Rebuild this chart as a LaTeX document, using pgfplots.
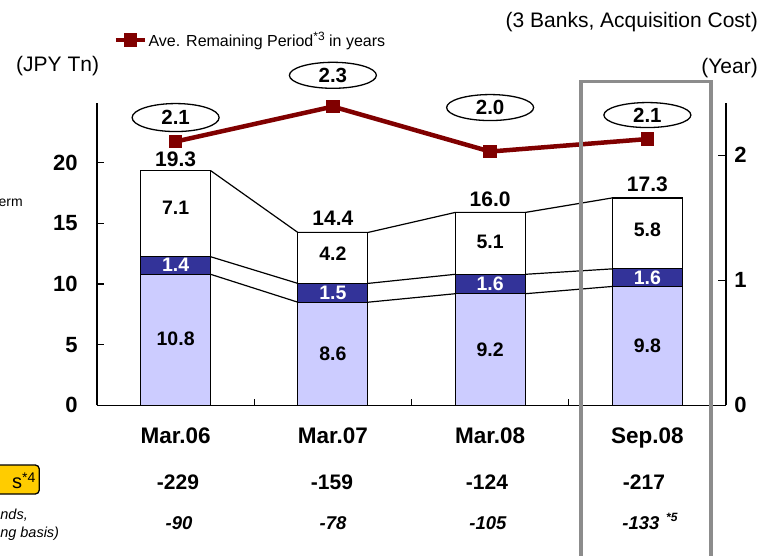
\documentclass[border=0pt]{standalone}
\usepackage{fontspec}
\setmainfont{Liberation Sans}
\usepackage{pgfplots}
\pgfplotsset{compat=1.18}
\usetikzlibrary{shapes.geometric}
\definecolor{lav}{HTML}{CCCCFF}
\definecolor{navy}{HTML}{333399}
\definecolor{dred}{HTML}{800000}
\definecolor{ybox}{HTML}{FFCC00}
\definecolor{gframe}{HTML}{8C8C8C}
\newcommand\fs[1]{\fontsize{#1}{#1}\selectfont}
\pgfplotsset{common/.style={at={(97pt,-405.3pt)}, anchor=south west, scale only axis,
  width=629pt, height=302pt, xmin=-0.5, xmax=3.5}}
\begin{document}
\begin{tikzpicture}
\useasboundingbox (0,0) rectangle (760pt,-555pt);

% series lines joining the stacked segments
\begin{axis}[common, ymin=0, ymax=24.9, hide axis]
\addplot[black, line width=1.2pt] coordinates {(0,10.8) (0.2225,10.8) (0.7775,8.5) (1.2225,8.5) (1.7775,9.2) (2.2225,9.2) (2.7775,9.8) (3,9.8)};
\addplot[black, line width=1.2pt] coordinates {(0,12.25) (0.2225,12.25) (0.7775,10.05) (1.2225,10.05) (1.7775,10.8) (2.2225,10.8) (2.7775,11.25) (3,11.25)};
\addplot[black, line width=1.2pt] coordinates {(0,19.35) (0.2225,19.35) (0.7775,14.25) (1.2225,14.25) (1.7775,15.9) (2.2225,15.9) (2.7775,17.1) (3,17.1)};
\end{axis}

% stacked bars, left axis
\begin{axis}[common, ymin=0, ymax=24.9, ybar stacked, bar width=0.445,
  axis x line*=bottom, axis y line*=left,
  axis line style={line width=1.3pt},
  tick align=inside, major tick length=6.5pt,
  tick style={black, line width=1.3pt},
  ytick={0,5,10,15,20},
  /pgf/number format/assume math mode=true,
  yticklabel style={font=\bfseries\fs{22}, outer xsep=16pt},
  xtick={0.5,1.5,2.5}, xticklabels={},
  extra x ticks={0,1,2,3},
  extra x tick labels={Mar.06,Mar.07,Mar.08,Sep.08},
  extra x tick style={major tick length=0pt},
  xticklabel style={font=\bfseries\fs{22.5}, yshift=-19pt},
  clip=false]
\addplot[fill=lav, draw=black, line width=1.2pt] coordinates {(0,10.8) (1,8.5) (2,9.2) (3,9.8)};
\addplot[fill=navy, draw=black, line width=1.2pt] coordinates {(0,1.45) (1,1.55) (2,1.6) (3,1.45)};
\addplot[fill=white, draw=black, line width=1.2pt] coordinates {(0,7.1) (1,4.2) (2,5.1) (3,5.85)};
\end{axis}

% value labels (drawn above the bars)
\begin{axis}[common, ymin=0, ymax=24.9, hide axis, clip=false]
\node[font=\bfseries\fs{19.5}] at (axis cs:0,5.45) {10.8};
\node[font=\bfseries\fs{19.5}] at (axis cs:1,4.25) {8.6};
\node[font=\bfseries\fs{19.5}] at (axis cs:2,4.6) {9.2};
\node[font=\bfseries\fs{19.5}] at (axis cs:3,4.9) {9.8};
\node[font=\bfseries\fs{19.5}, text=white] at (axis cs:0,11.55) {1.4};
\node[font=\bfseries\fs{19.5}, text=white] at (axis cs:1,9.3) {1.5};
\node[font=\bfseries\fs{19.5}, text=white] at (axis cs:2,10.0) {1.6};
\node[font=\bfseries\fs{19.5}, text=white] at (axis cs:3,10.55) {1.6};
\node[font=\bfseries\fs{19.5}] at (axis cs:0,16.3) {7.1};
\node[font=\bfseries\fs{19.5}] at (axis cs:1,12.5) {4.2};
\node[font=\bfseries\fs{19.5}] at (axis cs:2,13.5) {5.1};
\node[font=\bfseries\fs{19.5}] at (axis cs:3,14.5) {5.8};
\node[font=\bfseries\fs{21}] at (axis cs:0,20.3) {19.3};
\node[font=\bfseries\fs{21}] at (axis cs:1,15.4) {14.4};
\node[font=\bfseries\fs{21}] at (axis cs:2,17.0) {16.0};
\node[font=\bfseries\fs{21}] at (axis cs:3,18.25) {17.3};
\end{axis}

% right axis: average remaining period
\begin{axis}[common, ymin=0, ymax=2.416,
  axis y line*=right, axis x line=none,
  axis line style={line width=1.3pt},
  tick align=inside, major tick length=8pt,
  tick style={black, line width=1.3pt},
  ytick={0,1,2},
  /pgf/number format/assume math mode=true,
  yticklabel style={font=\bfseries\fs{22}, outer xsep=5pt},
  clip=false,
  legend style={at={(0.026,1.2096)}, anchor=west, draw=none, fill=none,
    inner sep=0pt, font=\fs{16}, nodes={inner sep=1.5pt}},
  legend cell align=left,
  legend image code/.code={\draw[mark repeat=2,mark phase=2] plot coordinates {(0pt,0pt) (14.5pt,0pt) (29pt,0pt)};}]
\addplot[color=dred, line width=4.5pt, mark=square*, mark size=6.3pt,
  mark options={solid, line width=0pt, fill=dred}] coordinates {(0,2.11) (1,2.39) (2,2.03) (3,2.13)};
\addlegendentry{Ave. Remaining Period{\fs{12}\raisebox{5.5pt}{*3}} in years}
\node[ellipse, draw, line width=1.3pt, minimum width=87pt, minimum height=28pt, inner sep=0pt, font=\bfseries\fs{20.5}] at (axis cs:0,2.302) {2.1};
\node[ellipse, draw, line width=1.3pt, minimum width=87pt, minimum height=26pt, inner sep=0pt, font=\bfseries\fs{20.5}] at (axis cs:1,2.64) {2.3};
\node[ellipse, draw, line width=1.3pt, minimum width=87pt, minimum height=26pt, inner sep=0pt, font=\bfseries\fs{20.5}] at (axis cs:2,2.382) {2.0};
\node[ellipse, draw, line width=1.3pt, minimum width=87pt, minimum height=25pt, inner sep=0pt, font=\bfseries\fs{20.5}] at (axis cs:3,2.322) {2.1};
\end{axis}

% headers
\node[anchor=east, inner sep=0pt, font=\fs{21}] at (758pt,-22.5pt) {(3 Banks, Acquisition Cost)};
\node[anchor=west, inner sep=0pt, font=\fs{21}] at (16pt,-66pt) {(JPY Tn)};
\node[anchor=east, inner sep=0pt, font=\fs{21}] at (758pt,-68pt) {(Year)};

% left fragments
\node[anchor=east, inner sep=0pt, font=\fs{14}] at (23pt,-203pt) {erm};
\draw[fill=ybox, rounded corners=4pt, line width=1.3pt] (-10pt,-465pt) rectangle (39.3pt,-494pt);
\node[anchor=east, inner sep=0pt, font=\fs{20}] at (35.5pt,-481pt) {s{\fs{14}\raisebox{6pt}{*4}}};
\node[anchor=east, inner sep=0pt, font=\itshape\fs{14.5}] at (28pt,-515pt) {nds,};
\node[anchor=east, inner sep=0pt, font=\itshape\fs{14.5}] at (59.3pt,-534pt) {ng basis)};

% rows below
\node[font=\bfseries\fs{21}] at (178pt,-482pt) {-229};
\node[font=\bfseries\fs{21}] at (332pt,-482pt) {-159};
\node[font=\bfseries\fs{21}] at (487pt,-482pt) {-124};
\node[font=\bfseries\fs{21}] at (644pt,-482pt) {-217};
\node[font=\bfseries\itshape\fs{18.5}] at (179pt,-523pt) {-90};
\node[font=\bfseries\itshape\fs{18.5}] at (333pt,-523pt) {-78};
\node[font=\bfseries\itshape\fs{18.5}] at (488pt,-523pt) {-105};
\node[font=\bfseries\itshape\fs{18.5}] at (641pt,-523pt) {-133};
\node[anchor=west, inner sep=0pt, font=\bfseries\itshape\fs{12}] at (666pt,-517pt) {*5};

% highlight frame
\draw[gframe, line width=3.3pt] (581pt,-560pt) -- (581pt,-81.7pt) -- (711pt,-81.7pt) -- (711pt,-560pt);
\end{tikzpicture}
\end{document}
